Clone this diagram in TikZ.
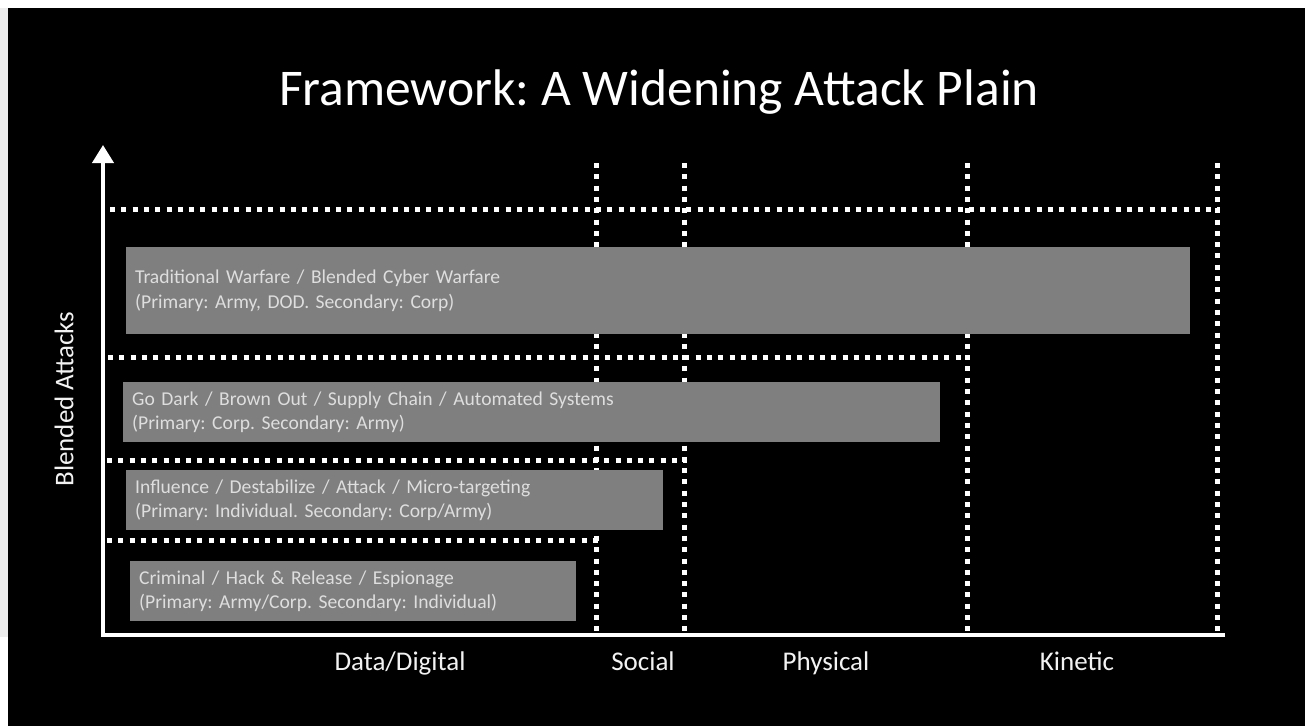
\documentclass[tikz,border=0pt]{standalone}
\usepackage{fontspec}
\setmainfont{Carlito}
\usetikzlibrary{arrows.meta}
\definecolor{barfill}{HTML}{7F7F7F}
\definecolor{bartext}{HTML}{DEDEDE}
\definecolor{labeltext}{HTML}{F2F2F2}
\definecolor{edgegray}{HTML}{EDEDED}
\frenchspacing
\begin{document}
\begin{tikzpicture}[x=1pt,y=-1pt,
  gridline/.style={white, line width=5pt, dash pattern=on 5pt off 6.3pt},
  axis/.style={white, line width=4pt},
  bar/.style={fill=barfill, anchor=north west, inner xsep=9pt, inner ysep=0pt,
    text=bartext, font=\fontsize{19.6}{24.5}\selectfont, align=left},
  catlabel/.style={text=labeltext, font=\fontsize{27}{30}\selectfont, inner sep=0pt, anchor=base},
  titlestyle/.style={text=white, font=\fontsize{51.5}{60}\selectfont, inner sep=0pt, anchor=base}]

% page and slide background
\path[use as bounding box] (0,0) rectangle (1308,726);
\fill[white] (0,0) rectangle (1308,726);
\fill[edgegray] (0,8) rectangle (8,637);
\fill[black] (8,8) rectangle (1305,726);

% title
\node[titlestyle] (title) at (659,105) {Framework: A Widening Attack Plain};

% grid of dotted boundaries
\coordinate (v1t) at (596,163); \coordinate (v1b) at (596,632);
\coordinate (v2t) at (684,163); \coordinate (v2b) at (684,632);
\coordinate (v3t) at (967,163); \coordinate (v3b) at (967,632);
\coordinate (v4t) at (1217,163); \coordinate (v4b) at (1217,632);
\coordinate (h1l) at (110,209); \coordinate (h1r) at (1220,209);
\coordinate (h2l) at (108,357); \coordinate (h2r) at (970,357);
\coordinate (h3l) at (107,460); \coordinate (h3r) at (687,460);
\coordinate (h4l) at (107,540); \coordinate (h4r) at (599,540);
\foreach \a/\b in {v1t/v1b,v2t/v2b,v3t/v3b,v4t/v4b,h1l/h1r,h2l/h2r,h3l/h3r,h4l/h4r}
  \draw[gridline] (\a) -- (\b);

% axes
\coordinate (origin) at (103,635);
\coordinate (xend) at (1225,635);
\coordinate (yend) at (103,145);
\draw[axis, line join=miter, -{Triangle[width=21pt,length=18pt]}] (xend) -- (origin) -- (yend);

% attack bands
\node[bar, text width=1046pt, minimum height=87pt] (band1) at (126,247)
  {Traditional Warfare / Blended Cyber Warfare\\(Primary: Army, DOD. Secondary: Corp)};
\node[bar, text width=799pt, minimum height=60pt] (band2) at (123,382)
  {Go Dark / Brown Out / Supply Chain / Automated Systems\\(Primary: Corp. Secondary: Army)};
\node[bar, text width=519pt, minimum height=60pt] (band3) at (126,470)
  {Influence / Destabilize / Attack / Micro-targeting\\(Primary: Individual. Secondary: Corp/Army)};
\node[bar, text width=428pt, minimum height=60pt] (band4) at (130,561)
  {Criminal / Hack \& Release / Espionage\\(Primary: Army/Corp. Secondary: Individual)};

% axis labels
\node[catlabel] (data) at (400,670) {Data/Digital};
\node[catlabel] (social) at (643,670) {Social};
\node[catlabel] (physical) at (826,670) {Physical};
\node[catlabel] (kinetic) at (1077,670) {Kinetic};
\node[catlabel, rotate=90, anchor=center] (yname) at (64,399) {Blended Attacks};
\end{tikzpicture}
\end{document}
